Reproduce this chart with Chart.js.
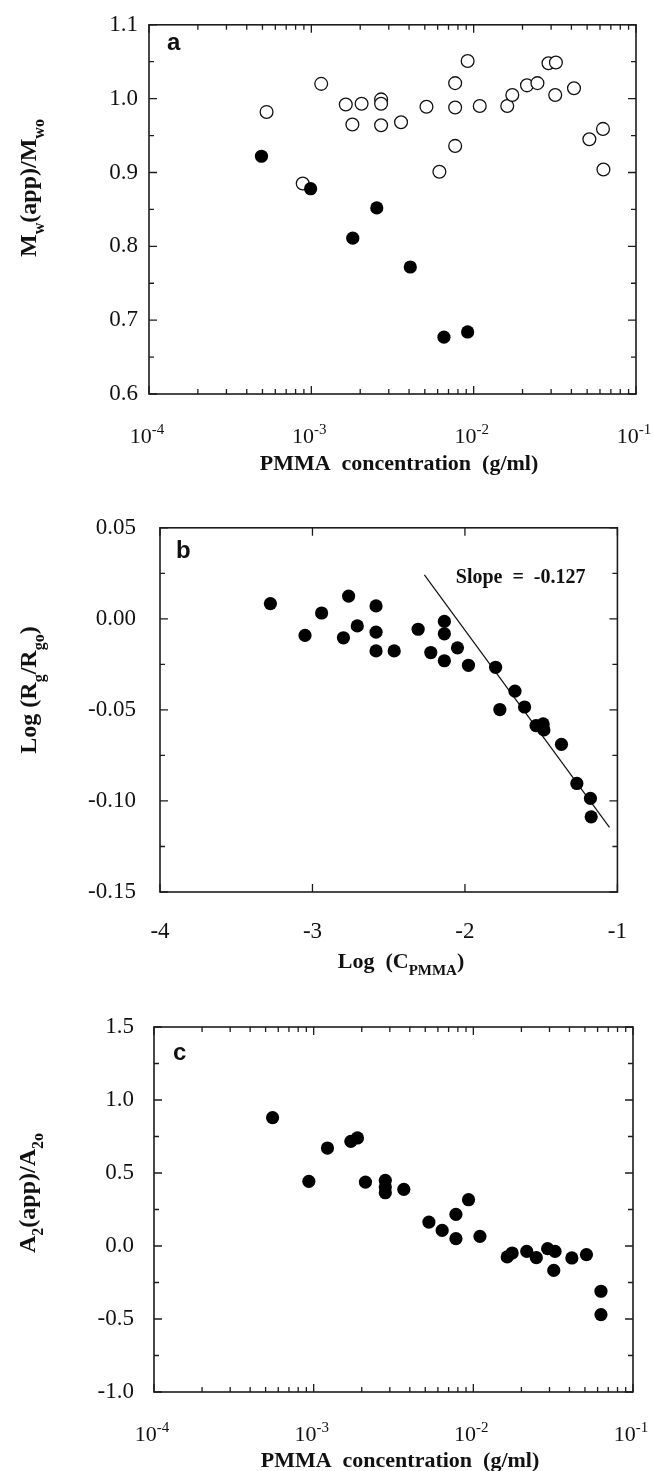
<!DOCTYPE html>
<html lang="en">
<head>
<meta charset="UTF-8">
<title>PMMA concentration dependence</title>
<script src="https://cdn.jsdelivr.net/npm/chart.js"></script>
<style>
    body { margin: 0; background: #fff; }
    #wrap { position: relative; width: 653px; height: 1471px; overflow: hidden; background: #fff; }
    canvas { position: absolute; left: 0; }
</style>
</head>
<body>
<div id="wrap">
    <canvas id="chartA" width="653" height="490" style="top:0px"></canvas>
    <canvas id="chartB" width="653" height="500" style="top:490px"></canvas>
    <canvas id="chartC" width="653" height="486" style="top:985px"></canvas>
</div>

<script>
// ---- panel a : Mw(app)/Mwo vs PMMA concentration (g/ml)
const concOpen = [5.3e-4, 8.85e-4, 1.15e-3, 1.63e-3, 1.79e-3, 2.04e-3, 2.69e-3, 2.69e-3, 2.69e-3, 3.57e-3,
    5.12e-3, 6.15e-3, 7.69e-3, 7.69e-3, 7.69e-3, 9.18e-3, 1.09e-2, 1.61e-2, 1.73e-2, 2.13e-2,
    2.47e-2, 2.89e-2, 3.21e-2, 3.18e-2, 4.15e-2, 5.16e-2, 6.26e-2, 6.3e-2];
const mwOpen = [0.982, 0.885, 1.020, 0.992, 0.965, 0.993, 0.999, 0.993, 0.964, 0.968,
    0.989, 0.901, 1.021, 0.988, 0.936, 1.051, 0.990, 0.990, 1.005, 1.018,
    1.021, 1.048, 1.049, 1.005, 1.014, 0.945, 0.959, 0.904];
const concFilled = [4.93e-4, 9.9e-4, 1.80e-3, 2.53e-3, 4.07e-3, 6.56e-3, 9.18e-3];
const mwFilled = [0.922, 0.878, 0.811, 0.852, 0.772, 0.677, 0.684];

// ---- panel b : Log(Rg/Rgo) vs Log(C_PMMA)
const logC = [-3.276, -3.049, -2.940, -2.797, -2.763, -2.706, -2.583, -2.583, -2.583, -2.464,
    -2.307, -2.224, -2.135, -2.135, -2.135, -2.049, -1.977, -1.799, -1.771, -1.672,
    -1.609, -1.534, -1.487, -1.482, -1.367, -1.266, -1.177, -1.172];
const logRg = [0.0084, -0.0091, 0.0032, -0.0104, 0.0125, -0.0039, 0.0071, -0.0073, -0.0176, -0.0176,
    -0.0057, -0.0185, -0.0014, -0.0082, -0.0230, -0.0159, -0.0255, -0.0266, -0.0498, -0.0397,
    -0.0484, -0.0586, -0.0577, -0.0610, -0.0689, -0.0904, -0.0986, -0.1087];
const slopeX = [-2.266, -1.052];
const slopeY = [0.0242, -0.1145];
const slopeText = 'Slope  =  -0.127';
const slopeTextAt = [-2.06, 0.0224];

// ---- panel c : A2(app)/A2o vs PMMA concentration
const concA2 = [5.53e-4, 9.33e-4, 1.22e-3, 1.71e-3, 1.88e-3, 2.11e-3, 2.81e-3, 2.81e-3, 2.81e-3, 3.67e-3,
    5.27e-3, 6.38e-3, 7.78e-3, 7.78e-3, 9.33e-3, 1.10e-2, 1.63e-2, 1.75e-2, 2.16e-2, 2.48e-2,
    2.92e-2, 3.25e-2, 3.19e-2, 4.14e-2, 5.11e-2, 6.3e-2, 6.3e-2];
const a2Ratio = [0.879, 0.443, 0.671, 0.717, 0.740, 0.438, 0.450, 0.404, 0.365, 0.388,
    0.164, 0.107, 0.217, 0.050, 0.317, 0.066, -0.075, -0.048, -0.037, -0.080,
    -0.018, -0.037, -0.167, -0.082, -0.059, -0.310, -0.470];

// ---- tick values
const decades = [1e-4, 1e-3, 1e-2, 1e-1];
const yTicksA = [0.6, 0.7, 0.8, 0.9, 1.0, 1.1];
const yMinorA = [0.65, 0.75, 0.85, 0.95, 1.05];
const xTicksB = [-4, -3, -2, -1];
const yTicksB = [-0.15, -0.10, -0.05, 0.00, 0.05];
const yMinorB = [-0.125, -0.075, -0.025, 0.025];
const yTicksC = [-1.0, -0.5, 0.0, 0.5, 1.0, 1.5];
const yMinorC = [-0.75, -0.25, 0.25, 0.75, 1.25];

const SERIF = '"Liberation Serif", "Times New Roman", serif';
const SANS = '"Liberation Sans", Arial, sans-serif';

// minor ticks of a log axis: 2..9 in each decade
const logMinor = [];
for (let k = 0; k < decades.length - 1; k++) {
    for (let m = 2; m <= 9; m++) logMinor.push(m * decades[k]);
}

const toPairs = (xs, ys) => xs.map((x, i) => ({ x: x, y: ys[i] }));

// draws text made of parts: [text, '' | 'sub' | 'sup']
function drawRich(ctx, parts, x, y, size, bold, align) {
    const fontOf = kind => (bold ? 'bold ' : '') + (kind ? Math.round(size * 0.68) : size) + 'px ' + SERIF;
    const widths = parts.map(p => { ctx.font = fontOf(p[1]); return ctx.measureText(p[0]).width; });
    const total = widths.reduce((s, w) => s + w, 0);
    let cx = align === 'center' ? x - total / 2 : (align === 'right' ? x - total : x);
    ctx.textAlign = 'left';
    ctx.textBaseline = 'alphabetic';
    parts.forEach((p, i) => {
        ctx.font = fontOf(p[1]);
        const dy = p[1] === 'sub' ? size * 0.32 : (p[1] === 'sup' ? -size * 0.42 : 0);
        ctx.fillText(p[0], cx, y + dy);
        cx += widths[i];
    });
}

// per panel decorations (frame, inward ticks, titles, letter)
const panelInfo = {
    chartA: {
        xMajor: decades, xMinor: logMinor, yMajor: yTicksA, yMinor: yMinorA, logLabels: true,
        letter: 'a', letterAt: [167, 50],
        xTitle: [['PMMA  concentration  (g/ml)', '']], xTitleAt: [399, 470],
        yTitle: [['M', ''], ['w', 'sub'], ['(app)/M', ''], ['wo', 'sub']], yTitleAt: [36, 188]
    },
    chartB: {
        xMajor: xTicksB, xMinor: [], yMajor: yTicksB, yMinor: yMinorB, logLabels: false,
        letter: 'b', letterAt: [176, 68],
        xTitle: [['Log  (C', ''], ['PMMA', 'sub'], [')', '']], xTitleAt: [401, 478],
        yTitle: [['Log (R', ''], ['g', 'sub'], ['/R', ''], ['go', 'sub'], [')', '']], yTitleAt: [36, 200]
    },
    chartC: {
        xMajor: decades, xMinor: logMinor, yMajor: yTicksC, yMinor: yMinorC, logLabels: true,
        letter: 'c', letterAt: [173, 75],
        xTitle: [['PMMA  concentration  (g/ml)', '']], xTitleAt: [400, 482],
        yTitle: [['A', ''], ['2', 'sub'], ['(app)/A', ''], ['2o', 'sub']], yTitleAt: [35, 208]
    }
};

const framePlugin = {
    id: 'frame',
    afterDraw(chart) {
        const info = panelInfo[chart.canvas.id];
        const { ctx, chartArea: a } = chart;
        const xs = chart.scales.x, ys = chart.scales.y;
        ctx.save();
        ctx.strokeStyle = '#1c1c1c';
        ctx.fillStyle = '#111';
        ctx.lineWidth = 1.6;
        ctx.strokeRect(a.left, a.top, a.right - a.left, a.bottom - a.top);

        ctx.lineWidth = 1.3;
        ctx.beginPath();
        const xTick = (v, len) => {
            const px = xs.getPixelForValue(v);
            ctx.moveTo(px, a.bottom); ctx.lineTo(px, a.bottom - len);
            ctx.moveTo(px, a.top); ctx.lineTo(px, a.top + len);
        };
        const yTick = (v, len) => {
            const py = ys.getPixelForValue(v);
            ctx.moveTo(a.left, py); ctx.lineTo(a.left + len, py);
            ctx.moveTo(a.right, py); ctx.lineTo(a.right - len, py);
        };
        info.xMajor.forEach(v => xTick(v, 8));
        info.xMinor.forEach(v => xTick(v, 5));
        info.yMajor.forEach(v => yTick(v, 8));
        info.yMinor.forEach(v => yTick(v, 5));
        ctx.stroke();

        // 10^k labels on the log axes
        if (info.logLabels) {
            info.xMajor.forEach(v => {
                const px = xs.getPixelForValue(v);
                drawRich(ctx, [['10', ''], [String(Math.round(Math.log10(v))), 'sup']], px - 2, a.bottom + 49, 22, false, 'center');
            });
        }

        // panel letter
        ctx.font = 'bold 24px ' + SANS;
        ctx.textAlign = 'left';
        ctx.textBaseline = 'alphabetic';
        ctx.fillText(info.letter, info.letterAt[0], info.letterAt[1]);

        // axis titles
        drawRich(ctx, info.xTitle, info.xTitleAt[0], info.xTitleAt[1], 22, true, 'center');
        ctx.translate(info.yTitleAt[0], info.yTitleAt[1]);
        ctx.rotate(-Math.PI / 2);
        drawRich(ctx, info.yTitle, 0, 0, 24, true, 'center');
        ctx.restore();

        // slope annotation
        if (info.letter === 'b') {
            ctx.save();
            ctx.fillStyle = '#111';
            ctx.font = 'bold 20px ' + SERIF;
            ctx.textBaseline = 'middle';
            ctx.fillText(slopeText, xs.getPixelForValue(slopeTextAt[0]), ys.getPixelForValue(slopeTextAt[1]));
            ctx.restore();
        }
    }
};

function makeChart(id, area, H, datasets, xScale, yScale) {
    xScale.afterFit = s => { s.height = H - area.bottom; };
    yScale.afterFit = s => { s.width = area.left; };
    return new Chart(document.getElementById(id), {
        type: 'scatter',
        data: { datasets: datasets },
        options: {
            responsive: false,
            animation: false,
            devicePixelRatio: 1,
            layout: { padding: { top: area.top, right: 653 - area.right, left: 0, bottom: 0 } },
            plugins: { legend: { display: false }, tooltip: { enabled: false } },
            scales: { x: xScale, y: yScale }
        },
        plugins: [framePlugin]
    });
}

const filledStyle = { pointRadius: 6.6, pointHoverRadius: 6.6, backgroundColor: '#000', borderColor: '#000', borderWidth: 0 };
const openStyle = { pointRadius: 6.4, pointHoverRadius: 6.4, backgroundColor: '#fff', borderColor: '#111', borderWidth: 1.3 };
const tickFont = { family: SERIF, size: 23 };

function yAxis(min, max, list, digits, pad) {
    return {
        type: 'linear', min: min, max: max,
        grid: { display: false, drawTicks: false },
        border: { display: false },
        afterBuildTicks: s => { s.ticks = list.map(v => ({ value: v })); },
        ticks: { font: tickFont, color: '#111', padding: pad, callback: v => v.toFixed(digits) }
    };
}
function logAxis() {
    return {
        type: 'logarithmic', min: 1e-4, max: 1e-1,
        grid: { display: false, drawTicks: false },
        border: { display: false },
        ticks: { display: false }
    };
}

makeChart('chartA', { left: 149, right: 636, top: 18, bottom: 394 }, 490, [
    Object.assign({ label: 'filled', data: toPairs(concFilled, mwFilled) }, filledStyle),
    Object.assign({ label: 'open', data: toPairs(concOpen, mwOpen) }, openStyle)
], logAxis(), yAxis(0.6, 1.1, yTicksA, 1, 11));

makeChart('chartB', { left: 160, right: 642, top: 32, bottom: 402 }, 500, [
    Object.assign({ label: 'Rg', data: toPairs(logC, logRg) }, filledStyle),
    { label: 'slope', data: toPairs(slopeX, slopeY), showLine: true, pointRadius: 0, pointHoverRadius: 0,
      borderColor: '#111', borderWidth: 1.2 }
], {
    type: 'linear', min: -4, max: -1,
    grid: { display: false, drawTicks: false },
    border: { display: false },
    afterBuildTicks: s => { s.ticks = xTicksB.map(v => ({ value: v })); },
    ticks: { font: tickFont, color: '#111', padding: 26, callback: v => String(v) }
}, yAxis(-0.15, 0.05, yTicksB, 2, 24));

makeChart('chartC', { left: 154, right: 633, top: 42, bottom: 407 }, 486, [
    Object.assign({ label: 'A2', data: toPairs(concA2, a2Ratio) }, filledStyle)
], logAxis(), yAxis(-1.0, 1.5, yTicksC, 1, 20));
</script>
</body>
</html>
